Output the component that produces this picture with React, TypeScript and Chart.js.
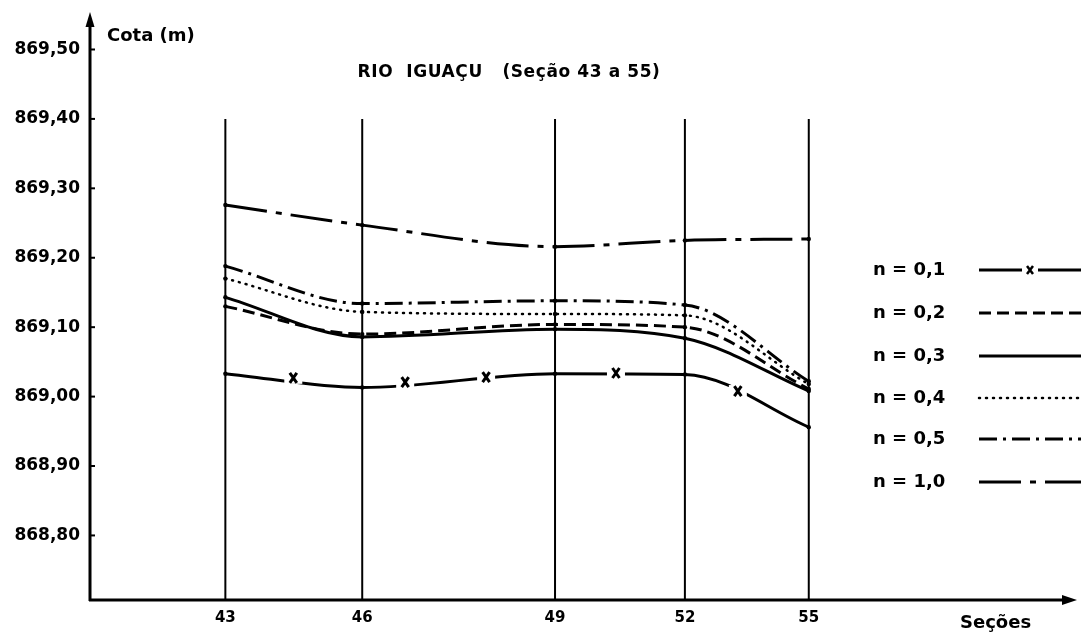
import React, { useEffect, useRef } from "react";
import { Chart, registerables } from "chart.js";

Chart.register(...registerables);

// ---- data ----
const sections = ["43", "46", "49", "52", "55"];
// relative distance along the reach (same units as the drawing's horizontal spacing)
const sectionChainage = [0, 137, 330, 460, 584];
const yTicks = [868.8, 868.9, 869.0, 869.1, 869.2, 869.3, 869.4, 869.5];

const n01 = [869.033, 869.013, 869.033, 869.032, 868.956];
const n02 = [869.13, 869.09, 869.104, 869.1, 869.011];
const n03 = [869.143, 869.086, 869.097, 869.084, 869.008];
const n04 = [869.17, 869.122, 869.119, 869.117, 869.018];
const n05 = [869.188, 869.134, 869.138, 869.132, 869.022];
const n10 = [869.276, 869.247, 869.216, 869.225, 869.227];

// "x" symbols drawn along the n = 0,1 curve
const n01MarkerChainage = [68, 180, 261, 391, 513];
const n01MarkerValues = [869.027, 869.021, 869.028, 869.034, 869.008];

const legendLabels = ["n = 0,1", "n = 0,2", "n = 0,3", "n = 0,4", "n = 0,5", "n = 1,0"];
const titleText = "RIO  IGUAÇU   (Seção 43 a 55)";
const yAxisTitle = "Cota (m)";
const xAxisTitle = "Seções";

const yMin = 868.707;
const yMax = 869.554;
const gridTop = 869.4;
const xMin = -135.5;
const xMax = 852.5;

const FONT = "'DejaVu Sans', sans-serif";

const dashes: number[][] = [
  [],
  [12, 6],
  [],
  [1, 6],
  [18, 6, 3, 6],
  [42, 9, 6, 9],
];

const toPts = (vals: number[]) => vals.map((v, i) => ({ x: sectionChainage[i], y: v }));

const overlayPlugin = {
  id: "overlay",
  afterDraw(chart: any) {
    const ctx: CanvasRenderingContext2D = chart.ctx;
    const { left, top, right, bottom } = chart.chartArea;
    const ys = chart.scales.y;
    const xs = chart.scales.x;
    ctx.save();
    ctx.strokeStyle = "#000";
    ctx.fillStyle = "#000";
    ctx.setLineDash([]);
    // "x" symbols on the n = 0,1 curve (gap + cross)
    n01MarkerChainage.forEach((c, i) => {
      const px = xs.getPixelForValue(c);
      const py = ys.getPixelForValue(n01MarkerValues[i]);
      ctx.fillStyle = "#fff";
      ctx.fillRect(px - 9, py - 6, 18, 12);
      ctx.strokeStyle = "#000";
      ctx.lineWidth = 3;
      ctx.beginPath();
      ctx.moveTo(px - 3.5, py - 5);
      ctx.lineTo(px + 3.5, py + 5);
      ctx.moveTo(px + 3.5, py - 5);
      ctx.lineTo(px - 3.5, py + 5);
      ctx.stroke();
    });
    ctx.fillStyle = "#000";
    // y axis with arrow
    ctx.lineWidth = 3;
    ctx.beginPath();
    ctx.moveTo(left, bottom + 1);
    ctx.lineTo(left, top + 10);
    ctx.stroke();
    ctx.beginPath();
    ctx.moveTo(left, top);
    ctx.lineTo(left - 4.5, top + 15);
    ctx.lineTo(left + 4.5, top + 15);
    ctx.closePath();
    ctx.fill();
    // x axis with arrow
    ctx.beginPath();
    ctx.moveTo(left - 1, bottom);
    ctx.lineTo(right - 10, bottom);
    ctx.stroke();
    ctx.beginPath();
    ctx.moveTo(right, bottom);
    ctx.lineTo(right - 15, bottom - 5);
    ctx.lineTo(right - 15, bottom + 5);
    ctx.closePath();
    ctx.fill();
    // y tick marks
    ctx.lineWidth = 2;
    yTicks.forEach((v) => {
      const py = ys.getPixelForValue(v);
      ctx.beginPath();
      ctx.moveTo(left, py);
      ctx.lineTo(left + 5, py);
      ctx.stroke();
    });
    // texts
    ctx.textBaseline = "middle";
    ctx.textAlign = "left";
    ctx.font = `bold 18px ${FONT}`;
    ctx.fillText(yAxisTitle, 107, 36);
    ctx.font = `bold 17px ${FONT}`;
    ctx.textAlign = "center";
    (ctx as any).letterSpacing = "0.6px";
    ctx.fillText(titleText, 509, 73);
    (ctx as any).letterSpacing = "0px";
    ctx.textAlign = "left";
    ctx.font = `bold 18px ${FONT}`;
    ctx.fillText(xAxisTitle, 960, 623);
    // legend
    const rows = [270, 313, 356, 398, 439, 482];
    ctx.font = `bold 18px ${FONT}`;
    legendLabels.forEach((lab, i) => {
      const y = rows[i];
      ctx.fillStyle = "#000";
      ctx.fillText(lab, 873, y);
      ctx.lineWidth = i === 3 ? 2.5 : 3;
      ctx.lineCap = i === 3 ? "round" : "butt";
      ctx.setLineDash(dashes[i]);
      if (i === 0) {
        ctx.beginPath();
        ctx.moveTo(979, y);
        ctx.lineTo(1022, y);
        ctx.moveTo(1038, y);
        ctx.lineTo(1081, y);
        ctx.stroke();
        ctx.setLineDash([]);
        ctx.lineWidth = 2.5;
        ctx.beginPath();
        ctx.moveTo(1027, y - 4);
        ctx.lineTo(1033, y + 4);
        ctx.moveTo(1033, y - 4);
        ctx.lineTo(1027, y + 4);
        ctx.stroke();
      } else {
        ctx.beginPath();
        ctx.moveTo(979, y);
        ctx.lineTo(1081, y);
        ctx.stroke();
      }
      ctx.setLineDash([]);
      ctx.lineCap = "butt";
    });
    ctx.restore();
  },
};

export default function App() {
  const ref = useRef<HTMLCanvasElement | null>(null);

  useEffect(() => {
    if (!ref.current) return;
    const seriesStyle = (data: number[], dash: number[], width: number, extra: any = {}) => ({
      type: "line" as const,
      data: toPts(data),
      borderColor: "#000",
      backgroundColor: "#000",
      borderWidth: width,
      borderDash: dash,
      cubicInterpolationMode: "monotone",
      pointRadius: 2.2,
      pointBorderWidth: 0,
      pointBackgroundColor: "#000",
      fill: false,
      order: 5,
      ...extra,
    });

    const verticals = sectionChainage.map((c) => ({
      type: "line" as const,
      data: [
        { x: c, y: yMin },
        { x: c, y: gridTop },
      ],
      borderColor: "#000",
      borderWidth: 2,
      pointRadius: 0,
      tension: 0,
      order: 10,
    }));

    const chart = new Chart(ref.current, {
      type: "line",
      data: {
        datasets: [
          ...verticals,
          seriesStyle(n01, [], 3),
          seriesStyle(n02, dashes[1], 3),
          seriesStyle(n03, [], 3),
          seriesStyle(n04, dashes[3], 2.5, { borderCapStyle: "round" }),
          seriesStyle(n05, dashes[4], 3),
          seriesStyle(n10, dashes[5], 3),
        ] as any,
      },
      options: {
        animation: false,
        responsive: false,
        maintainAspectRatio: false,
        layout: { padding: { top: 12, right: 3, left: 0, bottom: 0 } },
        plugins: {
          legend: { display: false },
          tooltip: { enabled: false },
          title: { display: false },
        },
        scales: {
          x: {
            type: "linear",
            min: xMin,
            max: xMax,
            grid: { display: false, drawTicks: false },
            border: { display: false },
            afterBuildTicks: (s: any) => {
              s.ticks = sectionChainage.map((v) => ({ value: v }));
            },
            afterFit: (s: any) => {
              s.height = 32;
              s.paddingLeft = 0;
              s.paddingRight = 0;
            },
            ticks: {
              autoSkip: false,
              maxRotation: 0,
              padding: 9,
              color: "#000",
              font: { family: FONT, size: 15, weight: "bold" },
              callback: (v: any) => {
                const i = sectionChainage.findIndex((c) => Math.abs(c - Number(v)) < 0.01);
                return i >= 0 ? sections[i] : "";
              },
            },
          },
          y: {
            type: "linear",
            min: yMin,
            max: yMax,
            grid: { display: false, drawTicks: false },
            border: { display: false },
            afterBuildTicks: (s: any) => {
              s.ticks = yTicks.map((v) => ({ value: v }));
            },
            afterFit: (s: any) => {
              s.width = 90;
              s.paddingTop = 0;
              s.paddingBottom = 0;
            },
            ticks: {
              padding: 10,
              color: "#000",
              font: { family: FONT, size: 17, weight: "bold" },
              callback: (v: any) => Number(v).toFixed(2).replace(".", ","),
            },
          },
        },
      } as any,
      plugins: [overlayPlugin],
    });
    return () => chart.destroy();
  }, []);

  return (
    <div style={{ position: "absolute", left: 0, top: 0, width: 1081, height: 632, background: "#fff" }}>
      <canvas ref={ref} width={1081} height={632} style={{ display: "block" }} />
    </div>
  );
}
